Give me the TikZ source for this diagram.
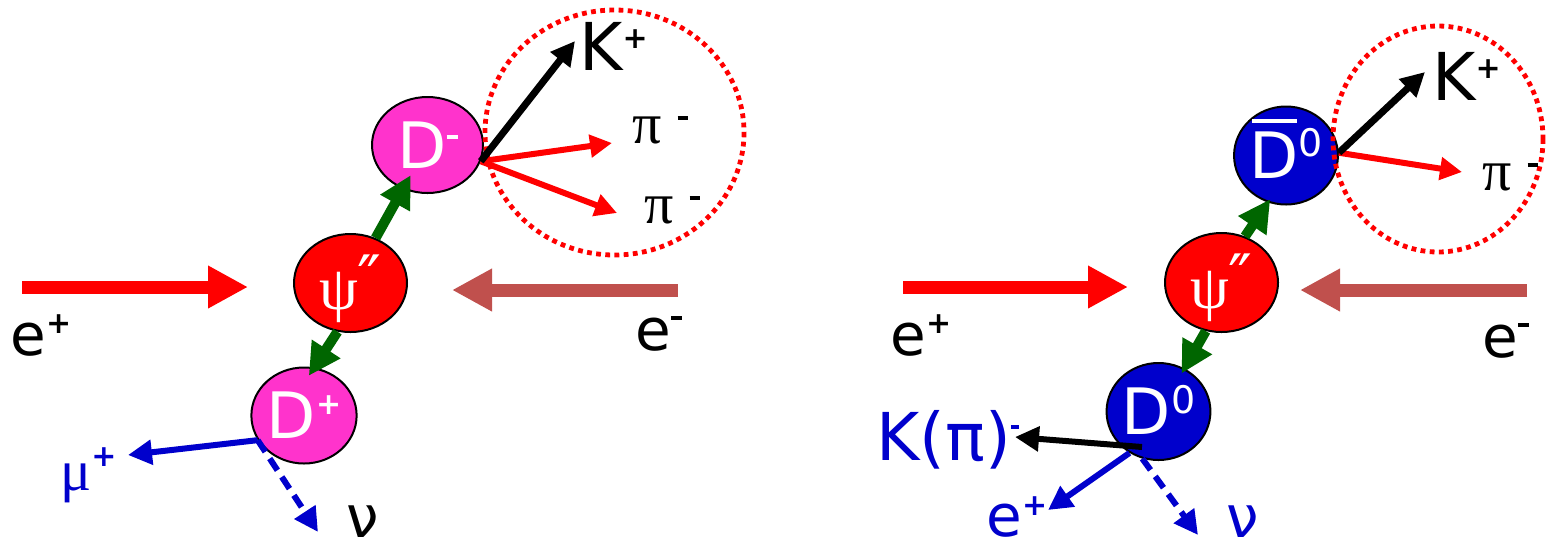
\documentclass[tikz,border=0pt]{standalone}
\usepackage{fontspec}
\setmainfont{DejaVu Sans}
\newfontfamily\grk{Liberation Serif}
\usetikzlibrary{arrows.meta,shapes.geometric}
\definecolor{beamred}{RGB}{255,0,0}
\definecolor{beambrown}{RGB}{192,80,77}
\definecolor{dpink}{RGB}{255,51,204}
\definecolor{dblue}{RGB}{0,0,204}
\definecolor{dgreen}{RGB}{0,102,0}
\newcommand\chgplus[1][11pt]{\raisebox{#1}[0pt][0pt]{\fontsize{15}{15}\selectfont\bfseries +}}
\newcommand\chgminus[2][13pt]{\raisebox{#1}[0pt][0pt]{\rule{#2}{2.2pt}}}
\newcommand\chgzero[1][11pt]{\raisebox{#1}[0pt][0pt]{\fontsize{19}{19}\selectfont 0}}
\newcommand\dbar{\makebox[0pt][l]{\hspace{1.5pt}\smash{\rule[28pt]{22.5pt}{2pt}}}D}
\newcommand\psipp{\raisebox{-7pt}[\height][\depth]{{\grk\fontsize{31}{31}\selectfont ψ}\raisebox{4pt}[0pt][0pt]{″}}}

\begin{document}
\begin{tikzpicture}[x=.5pt,y=-.5pt,
  ball/.style={ellipse,draw=black,line width=1pt,inner sep=0pt,text=white,
    font=\fontsize{32}{32}\selectfont},
  lbl/.style={anchor=base west,inner sep=0pt,font=\fontsize{29}{29}\selectfont},
  klbl/.style={lbl,font=\fontsize{33}{33}\selectfont},
  beam/.style={line width=6.5pt,-{Triangle[length=20pt,width=20pt]}},
  prod/.style={dgreen,line width=5pt,-{Triangle[length=16pt,width=16pt]}},
  trk/.style={line width=3pt,-{Triangle[length=12pt,width=12pt]}},
  nutrk/.style={trk,dash pattern=on 7pt off 4pt},
  ring/.style={beamred,line width=2.4pt,dash pattern=on 2.4pt off 2.2pt}]
 \useasboundingbox (0,0) rectangle (1547,548);
 % left: psi'' -> D+ D-, D- tagged
 \node[ball,fill=beamred,minimum width=56.5pt,minimum height=49pt] (psiL) at (350.5,283) {\psipp};
 \node[ball,fill=dpink,minimum width=55.5pt,minimum height=48pt] (DmL) at (427.5,145) {D\chgminus[14.5pt]{5.5pt}};
 \node[ball,fill=dpink,minimum width=48pt,minimum height=48pt] (DpL) at (304,415.5) {D\chgplus[12pt]};
 \draw[ring] (614.5,132.5) ellipse (129.5 and 122.5);
 \coordinate (eaL) at (22,287);
 \coordinate (ebL) at (248,287);
 \coordinate (ecL) at (678,290);
 \coordinate (edL) at (452,290);
 \draw[beam,beamred] (eaL) -- (ebL);
 \draw[beam,beambrown] (ecL) -- (edL);
 \draw[prod,shorten >=-8pt] (psiL) -- (DmL);
 \draw[prod,shorten >=-5pt] (psiL.-105) -- (DpL.78);
 \coordinate (vL) at (DmL.-17);
 \coordinate (kL) at (575,41);
 \coordinate (p1L) at (612,143);
 \coordinate (p2L) at (617,213);
 \draw[trk,beamred,-{Triangle[length=11pt,width=11pt]}] (vL) -- (p1L);
 \draw[trk,beamred,-{Triangle[length=11pt,width=11pt]}] (vL) -- (p2L);
 \draw[trk,line width=3.5pt] (vL) -- (kL);
 \coordinate (vDL) at (DpL.-152);
 \coordinate (muL) at (128,455);
 \coordinate (nuL) at (318,532);
 \draw[trk,dblue] (vDL) -- (muL);
 \draw[nutrk,dblue] (vDL) -- (nuL);
 \node[lbl] (epL) at (10,355) {e\chgplus};
 \node[lbl] (emL) at (635,350) {e\chgminus[15pt]{5.5pt}};
 \node[klbl] (kpL) at (579,70) {K\chgplus};
 \node[lbl] (pi1L) at (632,143) {{\grk π}\hspace{8pt}\chgminus[11.5pt]{5pt}};
 \node[lbl] (pi2L) at (644,223) {{\grk π}\hspace{8pt}\chgminus[11.5pt]{5pt}};
 \node[lbl,text=dblue] (muLbl) at (60,490) {{\grk μ}\chgplus[12pt]};
 \node[lbl] (nuLbl) at (346,537) {ν};
 % right: psi'' -> D0 D0bar, D0bar tagged
 \node[ball,fill=beamred,minimum width=56.5pt,minimum height=49.5pt] (psiR) at (1221.5,282.5) {\psipp};
 \node[ball,fill=dblue,minimum width=49pt,minimum height=49pt] (DbR) at (1286,155.5) {\dbar\chgzero};
 \node[ball,fill=dblue,minimum width=48.5pt,minimum height=48.5pt] (DzR) at (1158.5,411.5) {D\chgzero[10.5pt]};
 \draw[ring] (1438,139) ellipse (105 and 113);
 \coordinate (eaR) at (903,287);
 \coordinate (ebR) at (1128,287);
 \coordinate (ecR) at (1527,290);
 \coordinate (edR) at (1300,290);
 \draw[beam,beamred] (eaR) -- (ebR);
 \draw[beam,beambrown] (ecR) -- (edR);
 \draw[prod,shorten >=-2pt] (psiR.63) -- (DbR.-111);
 \draw[prod,shorten >=-3pt] (psiR.-108) -- (DzR.59.5);
 \coordinate (vR) at (DbR.3);
 \coordinate (kR) at (1425,72);
 \coordinate (pR) at (1462,172);
 \draw[trk,beamred,-{Triangle[length=11pt,width=11pt]}] (vR) -- (pR);
 \draw[trk,line width=3.5pt] (vR) -- (kR);
 \coordinate (vK) at (1142,447);
 \coordinate (kpiR) at (1015,437);
 \coordinate (eR) at (1048,510);
 \coordinate (nuR) at (1198,535);
 \draw[trk,dblue] (DzR.-125) -- (eR);
 \draw[nutrk,dblue] (DzR.-109) -- (nuR);
 \draw[trk] (vK) -- (kpiR);
 \node[lbl] (epR) at (890,355) {e\chgplus};
 \node[lbl] (emR) at (1482,357) {e\chgminus[15pt]{5.5pt}};
 \node[klbl] (kpR) at (1432,100) {K\chgplus};
 \node[lbl] (piR) at (1482,190) {{\grk π}\hspace{8pt}\chgminus[11.5pt]{5pt}};
 \node[klbl,text=dblue] (kpiLbl) at (876,460) {K(π)\chgminus[15.5pt]{4pt}};
 \node[lbl,text=dblue] (eLbl) at (986,536) {e\chgplus[10.5pt]};
 \node[lbl,text=dblue] (nuLblR) at (1226,537) {ν};
\end{tikzpicture}
\end{document}
